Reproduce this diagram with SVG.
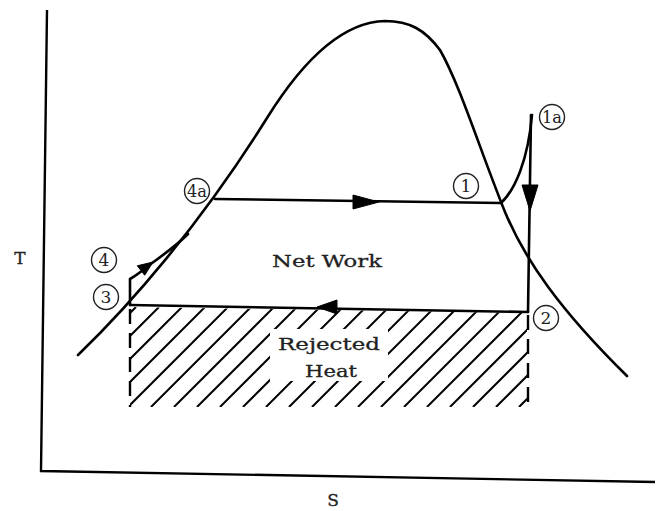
<svg xmlns="http://www.w3.org/2000/svg" width="663" height="511" viewBox="0 0 663 511">
<style>
.ln{fill:none;stroke:#000;stroke-width:2.6;stroke-linecap:round;stroke-linejoin:round}
.ax{fill:none;stroke:#000;stroke-width:2.4}
.hat{fill:none;stroke:#000;stroke-width:2}
.dash{fill:none;stroke:#000;stroke-width:2.4;stroke-dasharray:15 9}
.ah{fill:#000;stroke:#000;stroke-width:1;stroke-linejoin:round}
.lbl{font-family:"DejaVu Serif","Liberation Serif",serif;fill:#222;stroke:#222;stroke-width:0.3}
.cir{fill:#fff;stroke:#222;stroke-width:1.4}
.num{font-family:"DejaVu Serif","Liberation Serif",serif;font-size:17px;fill:#222;text-anchor:middle}
</style>
<defs>
<clipPath id="hc">
<path clip-rule="evenodd" d="M130,307 L527,313 L527,407 L130,407 Z M270,329 L388,329 L388,381 L270,381 Z"/>
</clipPath>
</defs>
<rect width="663" height="511" fill="#fff"/>
<g id="axes">
<path class="ax" d="M47,10 L41,471 L655,482"/>
<text class="lbl" x="20" y="264" font-size="17" text-anchor="middle">T</text>
<text class="lbl" x="333" y="506" font-size="17" text-anchor="middle">S</text>
</g>
<g id="hatching" clip-path="url(#hc)">
<path class="hat" d="M36,407 l100,-100 M59,407 l100,-100 M82,407 l100,-100 M105,407 l100,-100 M128,407 l100,-100 M151,407 l100,-100 M174,407 l100,-100 M197,407 l100,-100 M220,407 l100,-100 M243,407 l100,-100 M266,407 l100,-100 M289,407 l100,-100 M312,407 l100,-100 M335,407 l100,-100 M358,407 l100,-100 M381,407 l100,-100 M404,407 l100,-100 M427,407 l100,-100 M450,407 l100,-100 M473,407 l100,-100 M496,407 l100,-100 M519,407 l100,-100"/>
</g>
<g id="saturation-dome">
<path class="ln" d="M78,355 C130,305 200,225 267,118 C300,65 340,22 385,21 C410,21 425,30 440,50 C460,85 480,150 505,212 C525,260 560,310 627,376"/>
</g>
<g id="connectors">
<path class="ln" d="M215,199 L501,203"/>
<path class="ah" d="M353,195 L379,202 L353,209 Z"/>
<path class="ln" d="M501,203 C515,190 528,160 532,115"/>
<path class="ln" d="M531,115 L528,312"/>
<path class="ah" d="M522,185 L530,211 L538,185 Z"/>
<path class="ln" d="M528,312 L130,305"/>
<path class="ah" d="M337,300 L317,307 L337,314 Z"/>
<path class="ln" d="M130,305 L130,279 C137,275 142,271 148,266 C162,256 176,246 188,234"/>
<path class="ah" d="M153,262 L144.7,275.2 L137.3,265.8 Z"/>
<path class="dash" d="M130,309 L130,407"/>
<path class="dash" d="M528,315 L528,411"/>
</g>
<g id="labels">
<text class="lbl" x="327" y="267" font-size="17" text-anchor="middle" textLength="110" lengthAdjust="spacingAndGlyphs">Net Work</text>
<text class="lbl" x="329" y="350" font-size="17" text-anchor="middle" textLength="102" lengthAdjust="spacingAndGlyphs">Rejected</text>
<text class="lbl" x="331" y="377" font-size="17" text-anchor="middle" textLength="52" lengthAdjust="spacingAndGlyphs">Heat</text>
</g>
<g id="p4"><circle class="cir" cx="104" cy="260" r="12.5"/><text class="num" x="104" y="266">4</text></g>
<g id="p3"><circle class="cir" cx="106" cy="297" r="12.5"/><text class="num" x="106" y="303">3</text></g>
<g id="p4a"><circle class="cir" cx="197" cy="191" r="12.5"/><text class="num" x="197" y="196.5" font-size="15" textLength="20" lengthAdjust="spacingAndGlyphs">4a</text></g>
<g id="p1"><circle class="cir" cx="466" cy="186" r="12.5"/><text class="num" x="466" y="192">1</text></g>
<g id="p1a"><circle class="cir" cx="552" cy="117" r="12.5"/><text class="num" x="552" y="122.5" font-size="15" textLength="20" lengthAdjust="spacingAndGlyphs">1a</text></g>
<g id="p2"><circle class="cir" cx="546" cy="318" r="12.5"/><text class="num" x="546" y="324">2</text></g>
</svg>
